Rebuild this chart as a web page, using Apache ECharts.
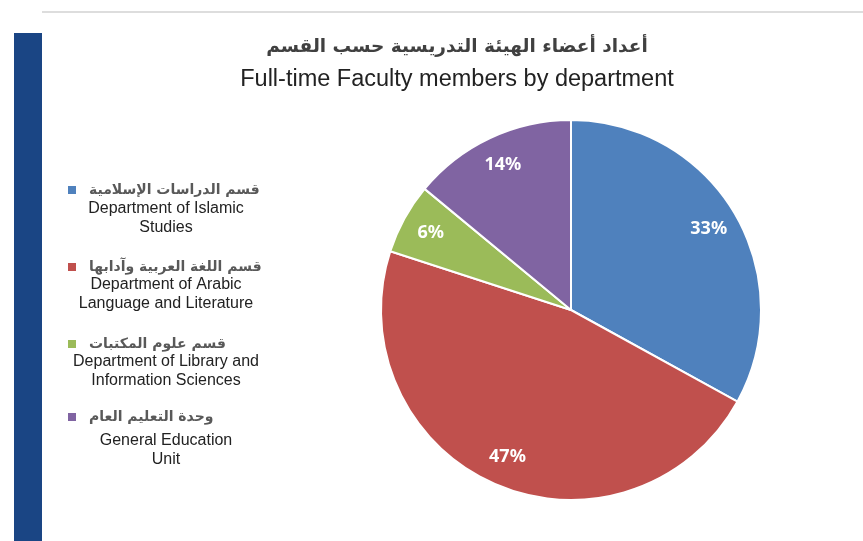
<!DOCTYPE html>
<html>
<head>
<meta charset="utf-8">
<script src="https://cdn.jsdelivr.net/npm/echarts@6/dist/echarts.min.js"></script>
<style>
  html, body { margin: 0; padding: 0; background: #fff; }
  #chart { width: 863px; height: 541px; }
</style>
</head>
<body>
<div id="chart"></div>
<script>
// departments (Arabic name, English lines) and their share
var namesAr = ['قسم الدراسات الإسلامية', 'قسم اللغة العربية وآدابها', 'قسم علوم المكتبات', 'وحدة التعليم العام'];
var namesEn = [
  ['Department of Islamic', 'Studies'],
  ['Department of Arabic', 'Language and Literature'],
  ['Department of Library and', 'Information Sciences'],
  ['General Education', 'Unit']
];
var shares = [33, 47, 6, 14];
var colors = ['#4f81bd', '#c0504d', '#9bbb59', '#8064a2'];

var titleAr = 'أعداد أعضاء الهيئة التدريسية حسب القسم';
var titleEn = 'Full-time Faculty members by department';

var chart = echarts.init(document.getElementById('chart'));

var pieData = namesAr.map(function (n, i) {
  return { name: n, value: shares[i] };
});

// legend: one per item so the english text can sit under each
var legendTops = [178, 255, 332, 405];
var legends = namesAr.map(function (n, i) {
  return {
    data: [n],
    left: 61,
    top: legendTops[i],
    icon: 'rect',
    itemWidth: 10,
    itemHeight: 10,
    selectedMode: false,
    textStyle: {
      fontFamily: 'DejaVu Sans',
      fontWeight: 'bold',
      fontSize: 14,
      color: '#595959',
      padding: [0, 0, 0, 7]
    }
  };
});

var enTops = [209, 285, 362, 441];
var graphics = [
  { type: 'rect', shape: { x: 14, y: 33, width: 28, height: 508 }, style: { fill: '#1a4584' } },
  { type: 'rect', shape: { x: 42, y: 11, width: 821, height: 2 }, style: { fill: '#dddddd' } }
];
namesEn.forEach(function (lines, i) {
  lines.forEach(function (t, j) {
    graphics.push({
      type: 'text',
      x: 166,
      y: enTops[i] + j * 19,
      style: {
        text: t,
        textAlign: 'center',
        textVerticalAlign: 'middle',
        fontFamily: 'Liberation Sans',
        fontSize: 16,
        fill: '#222'
      }
    });
  });
});

var option = {
  color: colors,
  animation: false,
  title: [
    {
      text: titleAr,
      left: 452,
      top: 33,
      textAlign: 'center',
      textStyle: { fontFamily: 'DejaVu Sans', fontWeight: 'bold', fontSize: 18.5, color: '#404040' }
    },
    {
      text: titleEn,
      left: 452,
      top: 63,
      textAlign: 'center',
      textStyle: { fontFamily: 'Liberation Sans', fontWeight: 'normal', fontSize: 23.5, color: '#222' }
    }
  ],
  legend: legends,
  graphic: graphics,
  series: [
    {
      type: 'pie',
      center: [571, 310],
      radius: [0, 190],
      startAngle: 90,
      clockwise: true,
      silent: true,
      itemStyle: { borderColor: '#fff', borderWidth: 2 },
      label: { show: false },
      labelLine: { show: false },
      data: pieData
    },
    {
      // label ring only, puts the percentages near the outer edge
      type: 'pie',
      center: [571, 310],
      radius: [124, 190],
      startAngle: 90,
      clockwise: true,
      silent: true,
      itemStyle: { color: 'rgba(0,0,0,0)' },
      label: {
        show: true,
        position: 'inside',
        formatter: '{c}%',
        color: '#fff',
        fontFamily: 'Noto Sans',
        fontWeight: 'bold',
        fontSize: 18
      },
      labelLine: { show: false },
      data: pieData
    }
  ]
};

chart.setOption(option);
</script>
</body>
</html>
